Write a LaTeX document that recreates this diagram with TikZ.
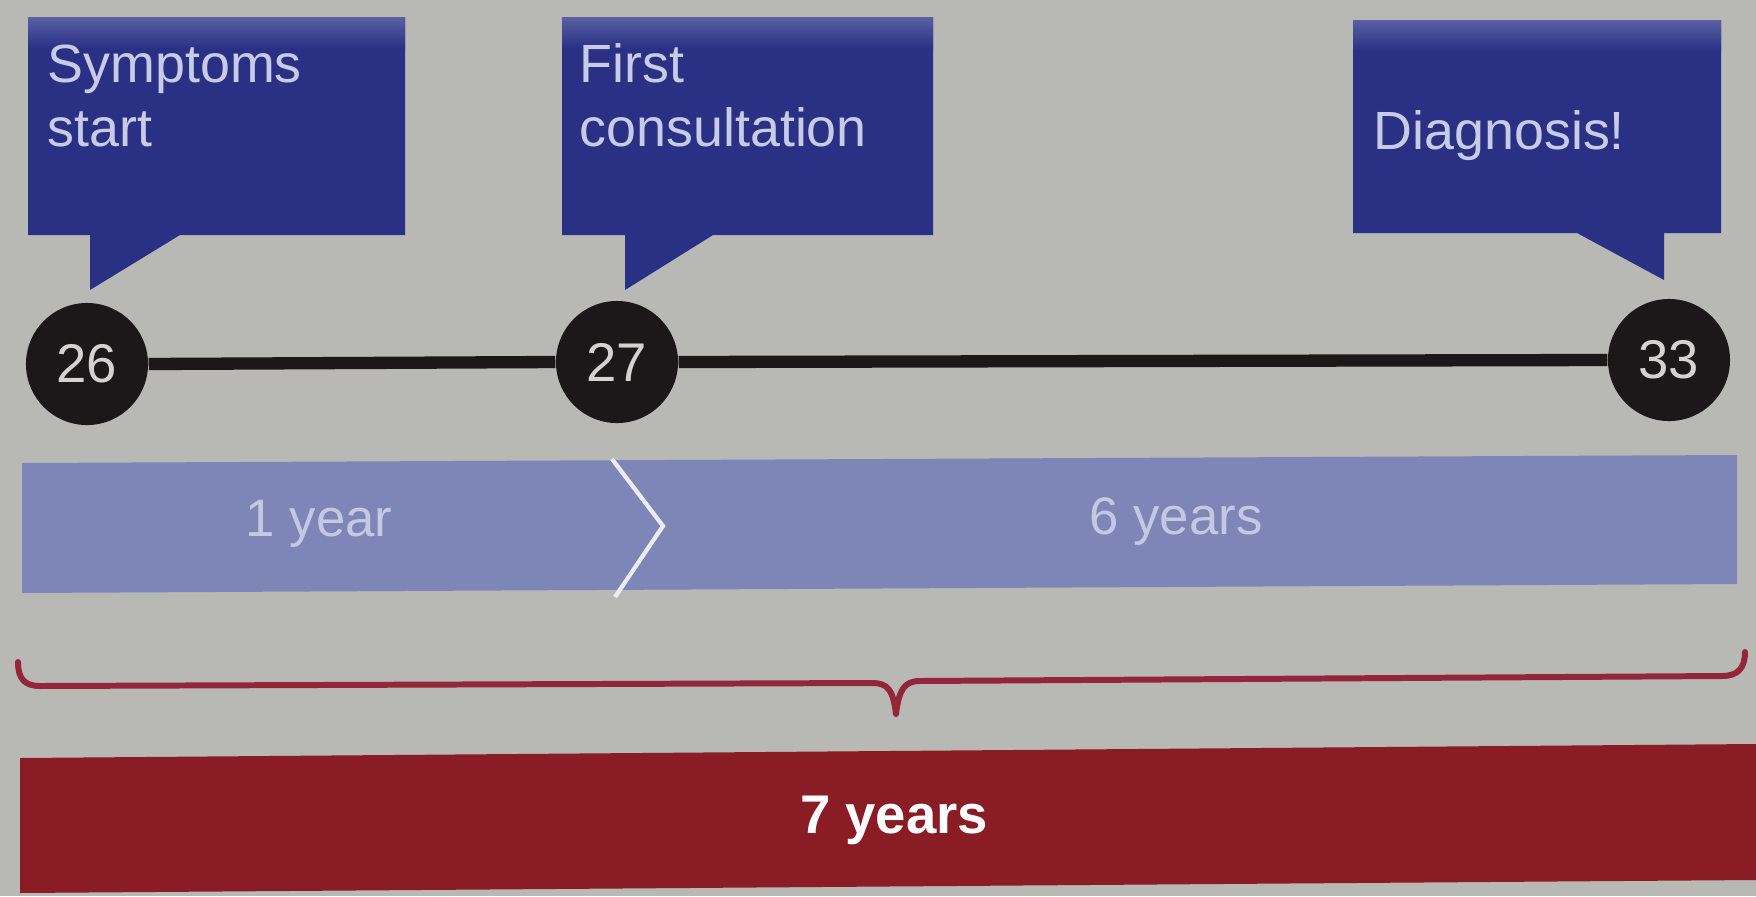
\documentclass[tikz,border=0pt]{standalone}
\usepackage{fontspec}
\setmainfont{Liberation Sans}
\definecolor{bg}{HTML}{B8B8B4}
\definecolor{calloutblue}{HTML}{2A3185}
\definecolor{callouttop}{HTML}{5A60A2}
\definecolor{callouttext}{HTML}{C8CBE6}
\definecolor{dotblack}{HTML}{1C1819}
\definecolor{dottext}{HTML}{D6D2D2}
\definecolor{barblue}{HTML}{7E86B8}
\definecolor{bartext}{HTML}{C4C8E0}
\definecolor{bracered}{HTML}{93263A}
\definecolor{barred}{HTML}{8A1C25}
\tikzset{
  calloutshape/.style={fill=calloutblue},
  callouttxt/.style={anchor=base west, align=left, text=callouttext, inner sep=0pt,
    font=\fontsize{15.3}{18.2}\selectfont},
  dot/.style={circle, fill=dotblack, minimum size=1.22cm, inner sep=0pt, text=dottext,
    font=\fontsize{15.5}{18}\selectfont},
  timeline/.style={draw=dotblack, line width=3.5pt},
  barlabel/.style={text=bartext, inner sep=0pt, font=\fontsize{15}{18}\selectfont},
  totallabel/.style={text=white, inner sep=0pt, font=\fontsize{15.5}{18}\selectfont\bfseries}
}
\begin{document}
\begin{tikzpicture}[x=0.01cm,y=-0.01cm]
\useasboundingbox (0,0) rectangle (1756,896);
\fill[bg] (0,0) rectangle (1756,896);

% callouts
\fill[calloutshape] (28,17) -- (405,17) -- (405,235) -- (180,235) -- (90,290) -- (90,235) -- (28,235) -- cycle;
\shade[top color=callouttop, bottom color=calloutblue] (28,17) rectangle (405,48);
\node[callouttxt] (t1) at (47,146) {Symptoms\\start};

\fill[calloutshape] (562,17) -- (933,17) -- (933,235) -- (713,235) -- (625,290) -- (625,235) -- (562,235) -- cycle;
\shade[top color=callouttop, bottom color=calloutblue] (562,17) rectangle (933,48);
\node[callouttxt] (t2) at (579,146) {First\\consultation};

\fill[calloutshape] (1353,20) -- (1721,20) -- (1721,233) -- (1664,233) -- (1664,280) -- (1577,233) -- (1353,233) -- cycle;
\shade[top color=callouttop, bottom color=calloutblue] (1353,20) rectangle (1721,50);
\node[callouttxt] (t3) at (1373,149) {Diagnosis!};

% timeline
\node[dot] (c26) at (87,364) {26};
\node[dot] (c27) at (617,362) {27};
\node[dot] (c33) at (1669,360) {33};
\draw[timeline] (c26.east) -- (c27.west);
\draw[timeline] (c27.east) -- (c33.west);

% duration bars
\fill[barblue] (22,463) -- (1737,455) -- (1737,584) -- (22,593) -- cycle;
\draw[white!85!barblue, line width=1.2pt] (612,459) -- (663,526) -- (615,597);
\node[barlabel] (y1) at (319,524) {1 year};
\node[barlabel] (y6) at (1176,522) {6 years};

% brace
\draw[bracered, line width=1.7pt, line cap=round, line join=round]
  (18,662) .. controls (18,678) and (24,686) .. (40,686)
  -- (872,683) .. controls (888,683) and (893,690) .. (896,714)
  .. controls (899,690) and (904,681) .. (920,681)
  -- (1722,676) .. controls (1738,676) and (1745,668) .. (1745,652);
\coordinate (bracetip) at (896,714);

% total bar
\fill[barred] (20,758) -- (1756,744) -- (1756,880) -- (20,893) -- cycle;
\node[totallabel] (y7) at (894,820) {7 years};
\end{tikzpicture}
\end{document}
